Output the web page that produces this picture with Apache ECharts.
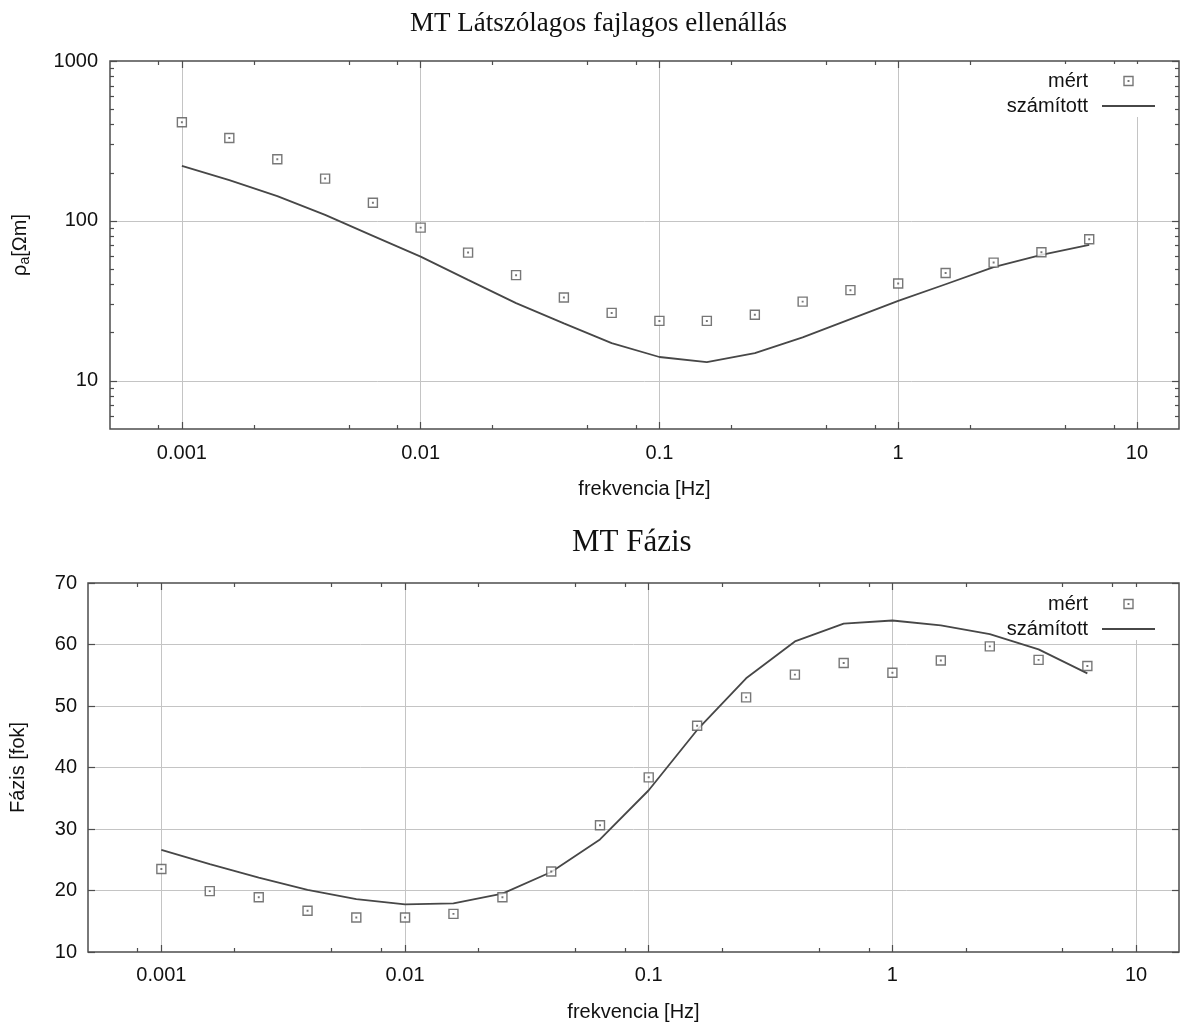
<!DOCTYPE html>
<html>
<head>
<meta charset="utf-8">
<script src="https://cdn.jsdelivr.net/npm/echarts@6/dist/echarts.min.js"></script>
<style>
  html, body { margin: 0; padding: 0; background: #ffffff; }
  #chart { width: 1184px; height: 1025px; }
</style>
</head>
<body>
<div id="chart"></div>
<script>
// Magnetotelluric sounding: apparent resistivity and phase versus frequency
const frequencies = [0.001, 0.00158, 0.00251, 0.00398, 0.00631, 0.01, 0.0158, 0.0251, 0.0398, 0.0631,
                     0.1, 0.158, 0.251, 0.398, 0.631, 1, 1.58, 2.51, 3.98, 6.31];
const rhoMeasured  = [414, 330, 243, 184, 130, 90.8, 63.4, 45.8, 33.2, 26.6,
                      23.7, 23.7, 25.9, 31.3, 36.9, 40.6, 47.3, 54.9, 63.7, 76.8];
const rhoComputed  = [221, 180, 143, 109, 80.6, 59.8, 42.8, 30.6, 22.9, 17.2,
                      14.1, 13.1, 14.9, 18.7, 24.3, 31.6, 40.2, 51.4, 61.3, 70.8];
const phaseMeasured = [23.5, 19.9, 18.9, 16.7, 15.6, 15.6, 16.2, 18.9, 23.1, 30.6,
                       38.4, 46.8, 51.4, 55.1, 57.0, 55.4, 57.4, 59.7, 57.5, 56.5];
const phaseComputed = [26.6, 24.3, 22.1, 20.1, 18.6, 17.75, 17.9, 19.5, 23.0, 28.3,
                       36.3, 46.1, 54.5, 60.5, 63.4, 63.9, 63.1, 61.7, 59.2, 55.3];

// Axis ranges and tick positions
const freqRange = [0.0005, 15];
const freqMajorTicks = [0.001, 0.01, 0.1, 1, 10];
const freqMinorTicks = [0.0008, 0.002, 0.005, 0.008, 0.02, 0.05, 0.08, 0.2, 0.5, 0.8, 2, 5, 8];
const freqGridLines = [0.001, 0.01, 0.1, 1, 10];
const rhoRange = [5, 1000];
const rhoMajorTicks = [10, 100, 1000];
const rhoMinorTicks = [6, 7, 8, 9, 20, 30, 40, 50, 60, 70, 80, 90, 200, 300, 400, 500, 600, 700, 800, 900];
const rhoGridLines = [10, 100];
const phaseRange = [10, 70];
const phaseTicks = [10, 20, 30, 40, 50, 60, 70];
const phaseGridLines = [20, 30, 40, 50, 60];

const SANS = '"Liberation Sans", Arial, Helvetica, sans-serif';
const SERIF = '"Liberation Serif", "Times New Roman", serif';
const INK = '#111111';
const FRAME = '#4d4d4d';
const GRID = '#c4c4c4';
const MARK = '#555555';
const CURVE = '#474747';

const chart = echarts.init(document.getElementById('chart'), null, { renderer: 'canvas' });

const xAxes = [];
const yAxes = [];

function tickAxis(kind, gridIndex, position, range, ticks, len, extra) {
  const axis = {
    type: kind,
    gridIndex: gridIndex,
    position: position,
    min: range[0],
    max: range[1],
    axisLine: { show: false },
    axisLabel: { show: false },
    splitLine: { show: false },
    axisTick: { show: true, inside: true, length: len, customValues: ticks,
                lineStyle: { color: FRAME, width: 1.2 } },
    axisPointer: { show: false },
    silent: true
  };
  if (kind === 'log') axis.logBase = 10;
  return Object.assign(axis, extra || {});
}

function gridAxis(kind, gridIndex, position, range, lines) {
  return tickAxis(kind, gridIndex, position, range, lines, 0, {
    axisTick: { show: true, inside: true, length: 0, customValues: lines, lineStyle: { width: 0, opacity: 0 } },
    splitLine: { show: true, lineStyle: { color: GRID, width: 1 } }
  });
}

const tickLabelStyle = { show: true, fontFamily: SANS, fontSize: 20, color: INK };

// ---------- upper panel: apparent resistivity (log-log) ----------
const xRho = xAxes.length;
xAxes.push(tickAxis('log', 0, 'bottom', freqRange, freqMajorTicks, 7, {
  axisLabel: Object.assign({}, tickLabelStyle, { margin: 14, customValues: freqMajorTicks,
    formatter: v => String(v) }),
  name: 'frekvencia [Hz]', nameLocation: 'middle', nameGap: 50,
  nameTextStyle: { fontFamily: SANS, fontSize: 20, color: INK }
}));
xAxes.push(tickAxis('log', 0, 'bottom', freqRange, freqMinorTicks, 4));
xAxes.push(tickAxis('log', 0, 'top', freqRange, freqMajorTicks, 7));
xAxes.push(tickAxis('log', 0, 'top', freqRange, freqMinorTicks, 4));
xAxes.push(gridAxis('log', 0, 'bottom', freqRange, freqGridLines));

const yRho = yAxes.length;
yAxes.push(tickAxis('log', 0, 'left', rhoRange, rhoMajorTicks, 7, {
  axisLabel: Object.assign({}, tickLabelStyle, { margin: 12, customValues: rhoMajorTicks,
    formatter: v => String(v) }),
  name: '{r|ρ}{s|a}{r|[Ωm]}', nameLocation: 'middle', nameGap: 78,
  nameTextStyle: { fontFamily: SANS, fontSize: 20, color: INK,
    rich: {
      r: { fontFamily: SANS, fontSize: 20, color: INK, lineHeight: 24, verticalAlign: 'middle' },
      s: { fontFamily: SANS, fontSize: 14, color: INK, lineHeight: 14, verticalAlign: 'bottom' }
    } }
}));
yAxes.push(tickAxis('log', 0, 'left', rhoRange, rhoMinorTicks, 4));
yAxes.push(tickAxis('log', 0, 'right', rhoRange, rhoMajorTicks, 7));
yAxes.push(tickAxis('log', 0, 'right', rhoRange, rhoMinorTicks, 4));
yAxes.push(gridAxis('log', 0, 'left', rhoRange, rhoGridLines));

// ---------- lower panel: phase (log x, linear y) ----------
const xPhase = xAxes.length;
xAxes.push(tickAxis('log', 1, 'bottom', freqRange, freqMajorTicks, 7, {
  axisLabel: Object.assign({}, tickLabelStyle, { margin: 13, customValues: freqMajorTicks,
    formatter: v => String(v) }),
  name: 'frekvencia [Hz]', nameLocation: 'middle', nameGap: 50,
  nameTextStyle: { fontFamily: SANS, fontSize: 20, color: INK }
}));
xAxes.push(tickAxis('log', 1, 'bottom', freqRange, freqMinorTicks, 4));
xAxes.push(tickAxis('log', 1, 'top', freqRange, freqMajorTicks, 7));
xAxes.push(tickAxis('log', 1, 'top', freqRange, freqMinorTicks, 4));
xAxes.push(gridAxis('log', 1, 'bottom', freqRange, freqGridLines));

const yPhase = yAxes.length;
yAxes.push(tickAxis('value', 1, 'left', phaseRange, phaseTicks, 7, {
  interval: 10,
  axisLabel: Object.assign({}, tickLabelStyle, { margin: 11, customValues: phaseTicks,
    formatter: v => String(v) }),
  name: 'Fázis [fok]', nameLocation: 'middle', nameGap: 60,
  nameTextStyle: { fontFamily: SANS, fontSize: 20, color: INK }
}));
yAxes.push(tickAxis('value', 1, 'right', phaseRange, phaseTicks, 7, { interval: 10 }));
yAxes.push(gridAxis('value', 1, 'left', phaseRange, phaseGridLines));

function pairs(xs, ys) { return xs.map((x, i) => [x, ys[i]]); }

const squareSymbol = 'path://M0,0H20V20H0Z M9.4,9.4H10.6V10.6H9.4Z';

function measuredSeries(xi, yi, values) {
  return {
    name: 'mért', type: 'scatter', xAxisIndex: xi, yAxisIndex: yi,
    data: pairs(frequencies, values),
    symbol: squareSymbol, symbolSize: 9, symbolKeepAspect: true,
    itemStyle: { color: '#ffffff', borderColor: MARK, borderWidth: 1.4 },
    z: 3, silent: true
  };
}
function computedSeries(xi, yi, values) {
  return {
    name: 'számított', type: 'line', xAxisIndex: xi, yAxisIndex: yi,
    data: pairs(frequencies, values),
    symbol: 'none', showSymbol: false,
    lineStyle: { color: CURVE, width: 1.8 },
    itemStyle: { color: CURVE },
    z: 2, silent: true
  };
}

// Key: text on the left, sample on the right; its white box hides grid lines but stays under the data
function legendAt(top) {
  return {
    orient: 'vertical', align: 'right', right: 14, top: top,
    itemWidth: 53, itemHeight: 9, itemGap: 5,
    backgroundColor: '#ffffff', padding: [7, 15, 1, 2],
    z: 1,
    selectedMode: false,
    itemStyle: { borderWidth: 1.4 },
    textStyle: { fontFamily: SANS, fontSize: 20, color: INK, lineHeight: 20, padding: [0, 9, 0, 0] },
    data: [
      'mért',
      { name: 'számított', icon: 'path://M0,0H53V1.8H0Z',
        itemStyle: { color: CURVE, borderWidth: 0 } }
    ]
  };
}

const option = {
  animation: false,
  backgroundColor: '#ffffff',
  title: [
    { text: 'MT Látszólagos fajlagos ellenállás', left: 410, top: 10, padding: 0,
      textStyle: { fontFamily: SERIF, fontSize: 27, fontWeight: 'normal', color: INK } },
    { text: 'MT Fázis', left: 572, top: 527, padding: 0,
      textStyle: { fontFamily: SERIF, fontSize: 31, fontWeight: 'normal', color: INK } }
  ],
  grid: [
    { left: 110, top: 61, width: 1069, height: 368, show: true,
      borderColor: FRAME, borderWidth: 1.5, backgroundColor: 'transparent' },
    { left: 87, top: 583, width: 1092, height: 369, show: true,
      borderColor: FRAME, borderWidth: 1.5, backgroundColor: 'transparent' }
  ],
  legend: [legendAt(64), legendAt(587)],
  xAxis: xAxes,
  yAxis: yAxes,
  series: [
    measuredSeries(xRho, yRho, rhoMeasured),
    computedSeries(xRho, yRho, rhoComputed),
    measuredSeries(xPhase, yPhase, phaseMeasured),
    computedSeries(xPhase, yPhase, phaseComputed)
  ]
};

chart.setOption(option);
</script>
</body>
</html>
